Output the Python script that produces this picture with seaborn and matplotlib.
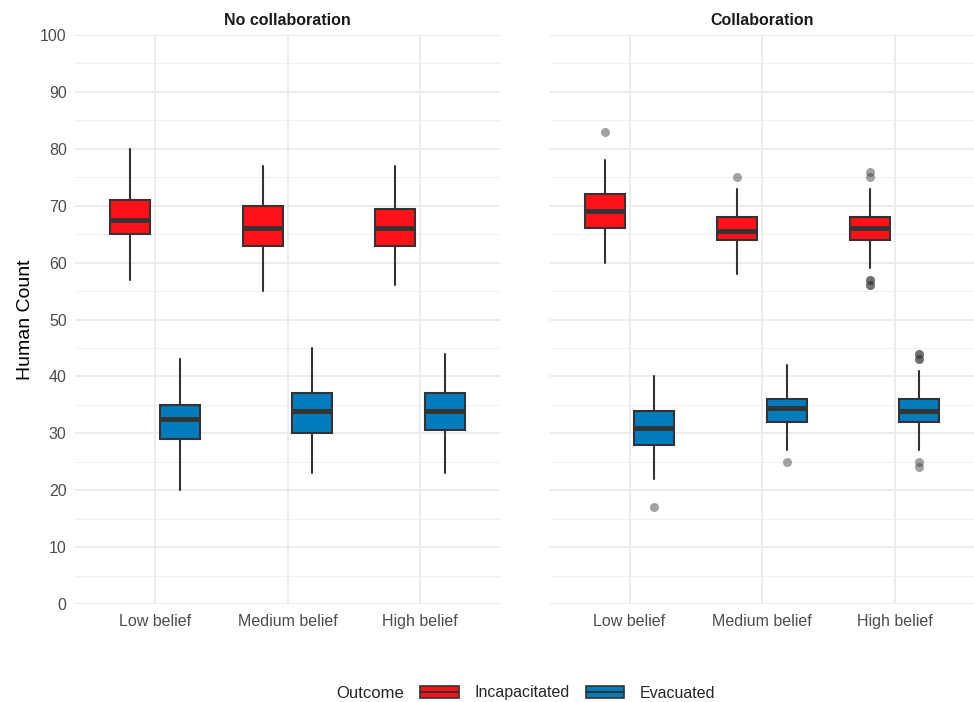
import matplotlib.pyplot as plt
import seaborn as sns
from matplotlib.patches import Patch
from matplotlib.lines import Line2D
from matplotlib.ticker import MultipleLocator

panels = ["No collaboration", "Collaboration"]
beliefs = ["Low belief", "Medium belief", "High belief"]
outcomes = ["Incapacitated", "Evacuated"]
colors = ["#FF1117", "#007BBB"]

# five numbers per box: whisker low, q1, median, q3, whisker high
nocollab_incap = [[57, 65, 67.5, 71, 80], [55, 63, 66, 70, 77], [56, 63, 66, 69.5, 77]]
nocollab_evac = [[20, 29, 32.5, 35, 43], [23, 30, 34, 37, 45], [23, 30.5, 34, 37, 44]]
collab_incap = [[60, 66, 69, 72, 78], [58, 64, 65.5, 68, 73], [59, 64, 66, 68, 73]]
collab_evac = [[22, 28, 31, 34, 40], [27, 32, 34.5, 36, 42], [27, 32, 34, 36, 41]]

# outliers (repeated values = overlapping points)
nocollab_incap_out = [[], [], []]
nocollab_evac_out = [[], [], []]
collab_incap_out = [[83], [75], [76, 75, 57, 57, 56, 56]]
collab_evac_out = [[17], [25], [44, 44, 43, 43, 25, 24]]

summaries = {
    "No collaboration": [(nocollab_incap, nocollab_incap_out), (nocollab_evac, nocollab_evac_out)],
    "Collaboration": [(collab_incap, collab_incap_out), (collab_evac, collab_evac_out)],
}

sns.set_theme(style="whitegrid")
plt.rcParams['font.family'] = ['Liberation Sans', 'DejaVu Sans']

fig = plt.figure(figsize=(9.74, 7.02), dpi=100)
ax1 = fig.add_axes([75 / 974, 1 - 604 / 702, 425 / 974, 569 / 702])
ax2 = fig.add_axes([550 / 974, 1 - 604 / 702, 424 / 974, 569 / 702], sharey=ax1)

edge = "#333333"
for ax, panel in zip([ax1, ax2], panels):
    for k, (five, outs) in enumerate(summaries[panel]):
        stats = []
        for (lo, q1, med, q3, hi), fl in zip(five, outs):
            stats.append(dict(whislo=lo, q1=q1, med=med, q3=q3, whishi=hi, fliers=fl))
        offset = -0.1875 if k == 0 else 0.1875
        ax.bxp(stats, positions=[i + offset for i in range(len(beliefs))], widths=0.3,
               patch_artist=True, showcaps=False, manage_ticks=False,
               boxprops=dict(facecolor=colors[k], edgecolor=edge, linewidth=1.5),
               medianprops=dict(color=edge, linewidth=3.5),
               whiskerprops=dict(color=edge, linewidth=1.5),
               flierprops=dict(marker='o', markerfacecolor=edge, markeredgecolor='none',
                               alpha=0.45, markersize=6.5))
    ax.set_xlim(-0.6, 2.6)
    ax.set_ylim(0, 100)
    ax.set_xticks(range(len(beliefs)))
    ax.set_xticklabels(beliefs)
    ax.yaxis.set_major_locator(MultipleLocator(10))
    ax.yaxis.set_minor_locator(MultipleLocator(5))
    ax.grid(True, which='major', color='#EBEBEB', linewidth=1.3)
    ax.grid(True, which='minor', axis='y', color='#F0F0F0', linewidth=0.7)
    ax.set_axisbelow(True)
    sns.despine(ax=ax, left=True, bottom=True)
    ax.tick_params(axis='both', which='both', length=0, labelsize=11.5, colors='#4D4D4D')
    ax.tick_params(axis='x', pad=7)
    ax.tick_params(axis='y', pad=6)
    ax.set_title(panel, fontsize=11.5, fontweight='bold', color='#1A1A1A', pad=7)

ax2.tick_params(axis='y', labelleft=False)
ax1.set_ylabel("Human Count", fontsize=14, color='black', labelpad=4)

handles = [(Patch(facecolor=c, edgecolor=edge, linewidth=1.2), Line2D([], [], color=edge, linewidth=1.5))
           for c in colors]
fig.text(336 / 974, 1 - 693 / 702, "Outcome", fontsize=12, va='center', ha='left')
fig.legend(handles, outcomes, loc='center', bbox_to_anchor=(568 / 974, 1 - 693 / 702),
           ncol=2, frameon=False, fontsize=11.5, handlelength=2.4, handleheight=0.7,
           columnspacing=1.0, handletextpad=1.0)

fig.savefig("out.png", dpi=100, facecolor='white')
